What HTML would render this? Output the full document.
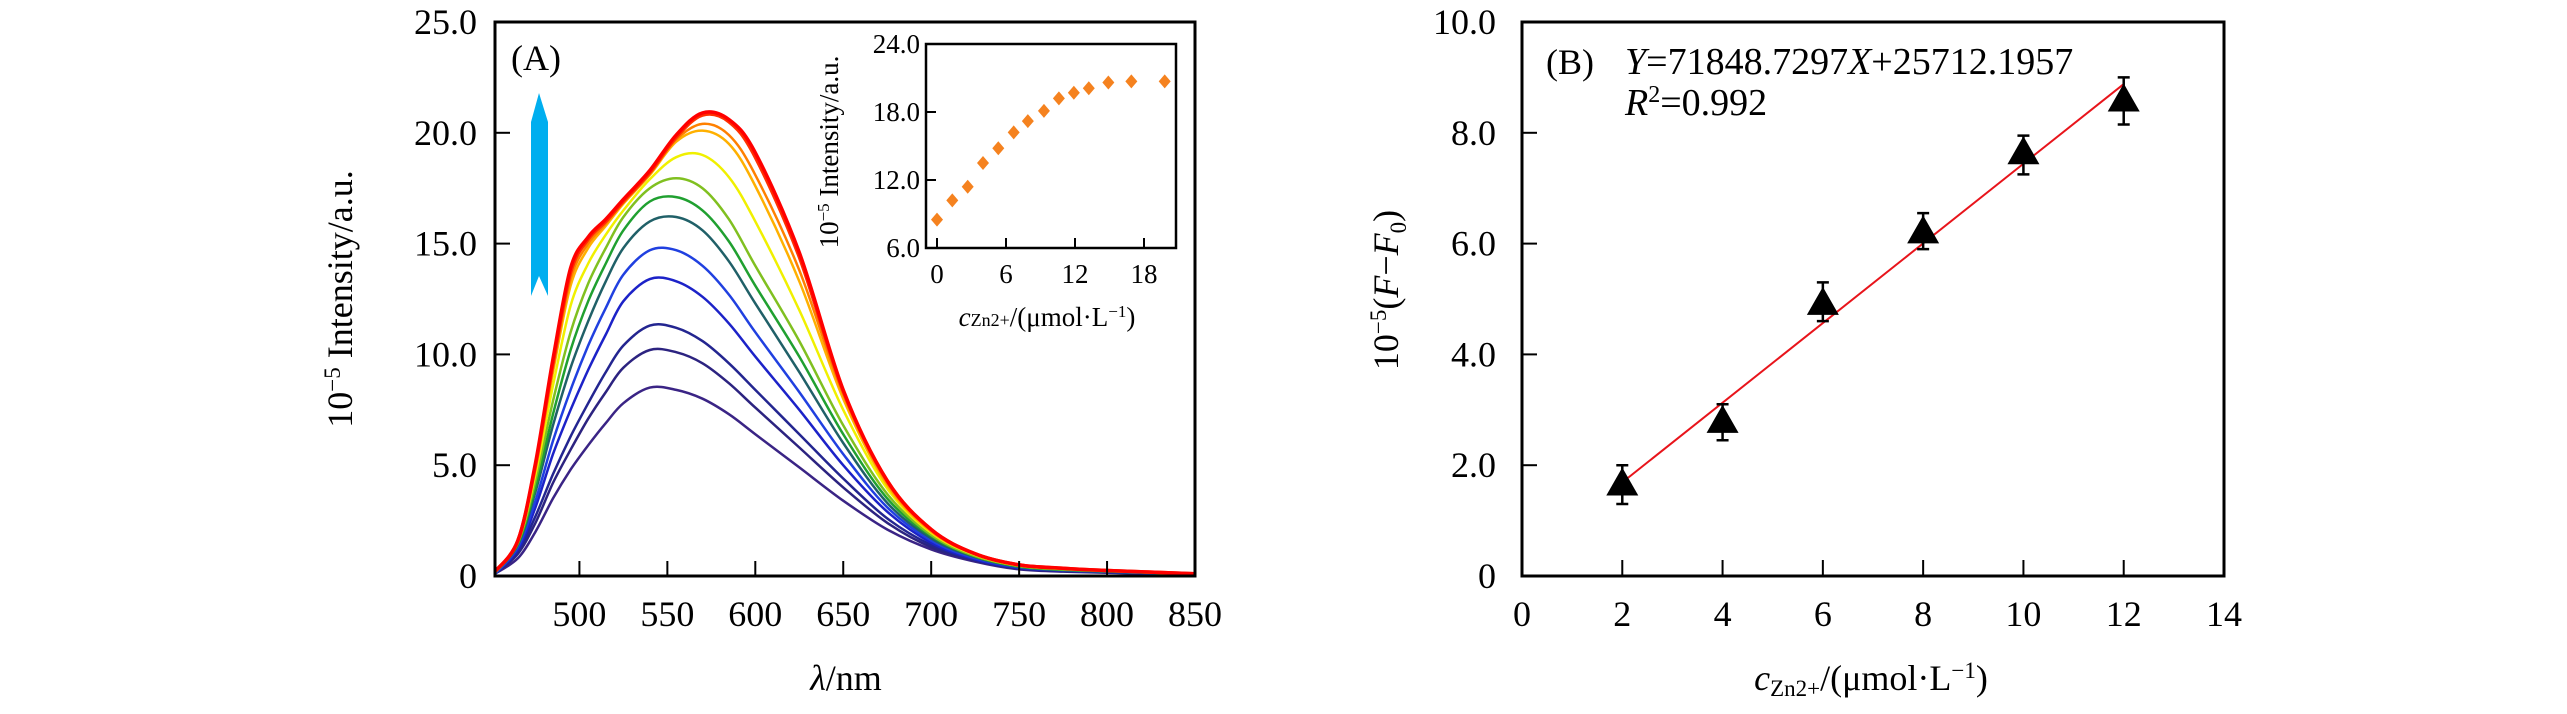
<!DOCTYPE html>
<html><head><meta charset="utf-8"><style>
html,body{margin:0;padding:0;background:#fff;}
svg, svg text{font-family:"Liberation Serif","Times New Roman",serif;}
</style></head><body>
<svg id="fig" width="2567" height="709" viewBox="0 0 2567 709" xmlns="http://www.w3.org/2000/svg" font-family="Liberation Serif, serif">
<g id="panelA"></g>
<g id="inset"></g>
<g id="panelB"></g>
</svg>
<script>
// ---- Panel A data ----
const wavelengths=[452,465,475,485,495,505,515,525,540,555,570,585,600,625,650,675,700,725,750,775,800,850];
const curve1=[0.1,0.8,2.0,3.5,4.8,5.9,6.9,7.8,8.5,8.4,8.0,7.3,6.4,4.9,3.4,2.1,1.2,0.65,0.3,0.2,0.15,0.05];
const curve2=[0.1,1.0,2.4,4.2,5.7,7.1,8.3,9.4,10.2,10.1,9.6,8.7,7.6,5.8,4.0,2.4,1.3,0.7,0.33,0.22,0.16,0.05];
const curve3=[0.1,1.1,2.7,4.6,6.3,7.8,9.2,10.4,11.3,11.2,10.6,9.6,8.4,6.4,4.4,2.6,1.4,0.72,0.35,0.23,0.17,0.06];
const curve4=[0.1,1.2,3.1,5.5,7.5,9.3,10.9,12.4,13.4,13.3,12.6,11.4,9.9,7.5,5.0,2.9,1.5,0.75,0.37,0.25,0.18,0.06];
const curve5=[0.1,1.3,3.4,6.1,8.4,10.4,12.1,13.6,14.7,14.7,14.0,12.7,11.0,8.3,5.5,3.1,1.6,0.8,0.39,0.26,0.19,0.07];
const curve6=[0.15,1.4,3.8,6.8,9.4,11.5,13.3,14.8,16.0,16.2,15.6,14.2,12.3,9.2,6.0,3.3,1.7,0.85,0.41,0.27,0.2,0.07];
const curve7=[0.15,1.45,4.0,7.3,10.2,12.4,14.1,15.6,16.9,17.1,16.5,15.1,13.1,9.9,6.4,3.5,1.8,0.88,0.43,0.28,0.21,0.08];
const curve8=[0.15,1.5,4.3,7.9,11.0,13.2,14.8,16.2,17.5,17.95,17.5,16.1,14.0,10.6,6.8,3.7,1.85,0.9,0.45,0.3,0.22,0.08];
const curve9=[0.2,1.55,4.6,8.6,12.2,14.1,15.4,16.5,17.9,18.9,19.0,18.0,16.0,12.0,7.5,3.95,1.95,0.95,0.47,0.32,0.23,0.09];
const curve10=[0.2,1.6,4.8,9.2,13.1,14.8,15.8,16.8,18.1,19.6,20.1,19.5,17.6,13.3,8.0,4.1,2.0,0.97,0.48,0.33,0.24,0.09];
const curve11=[0.2,1.6,4.9,9.4,13.4,15.0,15.9,16.9,18.2,19.7,20.4,19.9,18.1,13.8,8.2,4.2,2.05,0.98,0.49,0.34,0.24,0.1];
const curve12=[0.2,1.6,5.0,9.6,13.7,15.2,16.0,16.9,18.2,19.8,20.8,20.5,18.9,14.4,8.35,4.3,2.1,1.0,0.5,0.35,0.25,0.1];
const curve13=[0.2,1.6,5.1,9.8,13.9,15.3,16.1,17.0,18.3,19.9,20.9,20.6,19.1,14.6,8.4,4.3,2.1,1.0,0.5,0.35,0.25,0.1];
const curveColors=["#3a2485","#2c2380","#232590","#1c22c8","#2040e0","#206068","#20a030","#80c020","#f0f000","#ffb000","#ff8000","#ff3000","#ff0000"];
const aXTicks=[500,550,600,650,700,750,800,850];
const aYTicks=[0,5,10,15,20,25];
const aYTickLabels=["0","5.0","10.0","15.0","20.0","25.0"];
// ---- Inset data ----
const insetConc=[0,1.33,2.67,4,5.33,6.67,7.9,9.3,10.6,11.9,13.2,14.9,16.9,19.8];
const insetIntensity=[8.5,10.2,11.4,13.5,14.8,16.2,17.2,18.1,19.2,19.7,20.1,20.6,20.7,20.7];
const insetXTicks=[0,6,12,18];
const insetYTicks=[6,12,18,24];
const insetYTickLabels=["6.0","12.0","18.0","24.0"];
// ---- Panel B data ----
const bConc=[2,4,6,8,10,12];
const bValues=[1.67,2.8,4.93,6.22,7.65,8.6];
const bErrLow=[1.3,2.45,4.6,5.9,7.25,8.15];
const bErrHigh=[2.0,3.1,5.3,6.55,7.95,9.0];
const bFitX=[2,12];
const bFitY=[1.69,8.88];
const bXTicks=[0,2,4,6,8,10,12,14];
const bYTicks=[0,2,4,6,8,10];
const bYTickLabels=["0","2.0","4.0","6.0","8.0","10.0"];

const NS="http://www.w3.org/2000/svg";
const FF="Liberation Serif, Times New Roman, serif";
function mk(parent,tag,attrs,text){const e=document.createElementNS(NS,tag);for(const k in attrs)e.setAttribute(k,attrs[k]);if(tag==="text")e.setAttribute("font-family",FF);if(text!==undefined)e.textContent=text;parent.appendChild(e);return e;}
function smoothPath(pts){let d="M"+pts[0][0]+","+pts[0][1];for(let i=0;i<pts.length-1;i++){const p0=pts[Math.max(0,i-1)],p1=pts[i],p2=pts[i+1],p3=pts[Math.min(pts.length-1,i+2)];const c1x=p1[0]+(p2[0]-p0[0])/6,c1y=p1[1]+(p2[1]-p0[1])/6,c2x=p2[0]-(p3[0]-p1[0])/6,c2y=p2[1]-(p3[1]-p1[1])/6;d+=" C"+c1x.toFixed(1)+","+c1y.toFixed(1)+" "+c2x.toFixed(1)+","+c2y.toFixed(1)+" "+p2[0].toFixed(1)+","+p2[1].toFixed(1);}return d;}

// ===== Panel A =====
const A=document.getElementById("panelA");
const aL=495,aR=1195,aT=22,aB=576;
const ax=v=>aL+(v-452)/(850-452)*(aR-aL);
const ay=v=>aB-v/25*(aB-aT);
const curves=[curve1,curve2,curve3,curve4,curve5,curve6,curve7,curve8,curve9,curve10,curve11,curve12,curve13];
curves.forEach((c,i)=>{
  const p=mk(A,"path",{d:smoothPath(wavelengths.map((w,j)=>[ax(w),ay(c[j])])),fill:"none",stroke:curveColors[i],"stroke-width":i>=11?3.5:2.5});
  
  
});
aXTicks.forEach(t=>{
  const l=mk(A,"line",{x1:ax(t),x2:ax(t),y1:aB,y2:aB-15,stroke:"#000","stroke-width":2});
  
  
  const tx=mk(A,"text",{x:ax(t),y:aB+50,"font-size":36,"text-anchor":"middle"},String(t));
  
  
});
aYTicks.forEach((t,i)=>{
  if(t>0&&t<25){const l=mk(A,"line",{x1:aL,x2:aL+15,y1:ay(t),y2:ay(t),stroke:"#000","stroke-width":2});
  
  }
  const tx=mk(A,"text",{x:aL-18,y:ay(t)+12,"font-size":36,"text-anchor":"end"},aYTickLabels[i]);
  
  
});
const aBox=mk(A,"rect",{x:aL,y:aT,width:aR-aL,height:aB-aT,fill:"none",stroke:"#000","stroke-width":3});


const aLab=mk(A,"text",{x:511,y:70,"font-size":36},"(A)");


const arrow=mk(A,"polygon",{points:"539,93 548,122 548,296 539,276 531,296 531,122",fill:"#00aeef"});


const aYT=mk(A,"text",{transform:"translate(352,299) rotate(-90)","font-size":36,"text-anchor":"middle"});


aYT.innerHTML='10<tspan dy="-12" font-size="23">−5</tspan><tspan dy="12"> Intensity/a.u.</tspan>';
const aXT=mk(A,"text",{x:846,y:690,"font-size":36,"text-anchor":"middle"});


aXT.innerHTML='<tspan font-style="italic">λ</tspan>/nm';

// ===== Inset =====
const I=document.getElementById("inset");
const iL=926,iR=1176,iT=44,iB=248;
const ix=v=>937+v*(1144-937)/18;
const iy=v=>iB-(v-6)/18*(iB-iT);
insetConc.forEach((c,i)=>{
  const x=ix(c),y=iy(insetIntensity[i]);
  const m=mk(I,"polygon",{points:`${x},${y-7} ${x+6},${y} ${x},${y+7} ${x-6},${y}`,fill:"#f5821f"});
  
  
});
insetXTicks.forEach(t=>{
  const l=mk(I,"line",{x1:ix(t),x2:ix(t),y1:iB,y2:iB-10,stroke:"#000","stroke-width":2});
  
  
  const tx=mk(I,"text",{x:ix(t),y:283,"font-size":27,"text-anchor":"middle"},String(t));
  
  
});
insetYTicks.forEach((t,i)=>{
  const l=mk(I,"line",{x1:iL,x2:iL+10,y1:iy(t),y2:iy(t),stroke:"#000","stroke-width":2});
  
  
  const tx=mk(I,"text",{x:iL-6,y:iy(t)+9,"font-size":27,"text-anchor":"end"},insetYTickLabels[i]);
  
  
});
const iBox=mk(I,"rect",{x:iL,y:iT,width:iR-iL,height:iB-iT,fill:"none",stroke:"#000","stroke-width":2.5});


const iYT=mk(I,"text",{transform:"translate(838,152) rotate(-90)","font-size":27,"text-anchor":"middle"});


iYT.innerHTML='10<tspan dy="-9" font-size="17">−5</tspan><tspan dy="9"> Intensity/a.u.</tspan>';
const iXT=mk(I,"text",{x:1047,y:326,"font-size":27,"text-anchor":"middle"});


iXT.innerHTML='<tspan font-style="italic">c</tspan><tspan font-size="18">Zn2+</tspan>/(μmol·L<tspan dy="-9" font-size="17">−1</tspan><tspan dy="9">)</tspan>';

// ===== Panel B =====
const B=document.getElementById("panelB");
const bL=1522,bR=2224,bT=22,bB=576;
const bx=v=>bL+v/14*(bR-bL);
const by=v=>bB-v/10*(bB-bT);
const fit=mk(B,"line",{x1:bx(bFitX[0]),y1:by(bFitY[0]),x2:bx(bFitX[1]),y2:by(bFitY[1]),stroke:"#e8141b","stroke-width":2});


bConc.forEach((c,i)=>{
  const x=bx(c);
  const e=mk(B,"path",{d:`M${x},${by(bErrLow[i])}V${by(bErrHigh[i])}M${x-6},${by(bErrLow[i])}H${x+6}M${x-6},${by(bErrHigh[i])}H${x+6}`,stroke:"#000","stroke-width":2.5,fill:"none"});
  
  
  const y=by(bValues[i]);
  const t=mk(B,"polygon",{points:`${x},${y-16} ${x+16},${y+12} ${x-16},${y+12}`,fill:"#000"});
  
  
});
bXTicks.forEach(t=>{
  if(t>0&&t<14){const l=mk(B,"line",{x1:bx(t),x2:bx(t),y1:bB,y2:bB-16,stroke:"#000","stroke-width":2});
  
  }
  const tx=mk(B,"text",{x:bx(t),y:bB+50,"font-size":36,"text-anchor":"middle"},String(t));
  
  
});
bYTicks.forEach((t,i)=>{
  if(t>0&&t<10){const l=mk(B,"line",{x1:bL,x2:bL+15,y1:by(t),y2:by(t),stroke:"#000","stroke-width":2});
  
  }
  const tx=mk(B,"text",{x:bL-26,y:by(t)+12,"font-size":36,"text-anchor":"end"},bYTickLabels[i]);
  
  
});
const bBox=mk(B,"rect",{x:bL,y:bT,width:bR-bL,height:bB-bT,fill:"none",stroke:"#000","stroke-width":3});


const bLab=mk(B,"text",{x:1546,y:74,"font-size":36},"(B)");


const eq=mk(B,"text",{x:1625,y:74,"font-size":38});


eq.innerHTML='<tspan font-style="italic">Y</tspan>=71848.7297<tspan font-style="italic">X</tspan>+25712.1957';
const r2=mk(B,"text",{x:1625,y:115,"font-size":38});


r2.innerHTML='<tspan font-style="italic">R</tspan><tspan dy="-13" font-size="24">2</tspan><tspan dy="13">=0.992</tspan>';
const bYT=mk(B,"text",{transform:"translate(1398,290) rotate(-90)","font-size":36,"text-anchor":"middle"});


bYT.innerHTML='10<tspan dy="-12" font-size="23">−5</tspan><tspan dy="12">(</tspan><tspan font-style="italic">F</tspan>−<tspan font-style="italic">F</tspan><tspan dy="8" font-size="23">0</tspan><tspan dy="-8">)</tspan>';
const bXT=mk(B,"text",{x:1871,y:690,"font-size":36,"text-anchor":"middle"});


bXT.innerHTML='<tspan font-style="italic">c</tspan><tspan font-size="23" dy="6">Zn2+</tspan><tspan dy="-6">/(μmol·L</tspan><tspan dy="-12" font-size="23">−1</tspan><tspan dy="12">)</tspan>';
</script>
</body></html>
